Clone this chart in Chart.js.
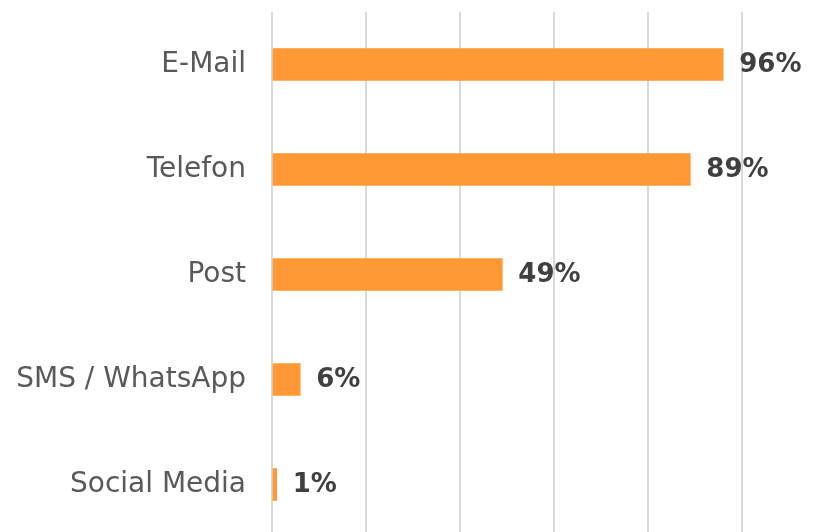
<!DOCTYPE html>
<html>
<head>
<meta charset="utf-8">
<script src="https://cdn.jsdelivr.net/npm/chart.js@4"></script>
<style>
  html, body { margin: 0; padding: 0; background: #fff; overflow: hidden; }
  #wrap { width: 829px; height: 537px; }
</style>
</head>
<body>
<div id="wrap"><canvas id="myChart"></canvas></div>
<script>
'use strict';

// channels and share of answers (%)
var channels = ['E-Mail', 'Telefon', 'Post', 'SMS / WhatsApp', 'Social Media'];
var shares = [96, 89, 49, 6, 1];
var axisTicks = [0, 20, 40, 60, 80, 100];

// draws the "96%" labels right of each bar
var valueLabels = {
  id: 'valueLabels',
  afterDatasetsDraw: function (chart) {
    var c = chart.ctx;
    var meta = chart.getDatasetMeta(0);
    c.save();
    c.font = 'bold 26px "DejaVu Sans"';
    c.fillStyle = '#404040';
    c.textBaseline = 'middle';
    c.textAlign = 'left';
    meta.data.forEach(function (bar, i) {
      c.fillText(shares[i] + '%', bar.x + 16, bar.y + 1);
    });
    c.restore();
  }
};

var ctx = document.getElementById('myChart').getContext('2d');
var myChart = new Chart(ctx, {
  type: 'bar',
  data: {
    labels: channels,
    datasets: [{
      data: shares,
      backgroundColor: '#ff9933',
      borderWidth: 0,
      barThickness: 32
    }]
  },
  options: {
    indexAxis: 'y',
    responsive: true,
    maintainAspectRatio: false,
    animation: false,
    layout: { padding: { top: 12, right: 87, left: 0, bottom: 0 } },
    plugins: {
      legend: { display: false },
      tooltip: { enabled: false }
    },
    scales: {
      x: {
        min: axisTicks[0],
        max: axisTicks[axisTicks.length - 1],
        ticks: { display: false, stepSize: 20 },
        grid: { color: '#d9d9d9', lineWidth: 2, drawTicks: false },
        border: { display: false }
      },
      y: {
        // fixed width, and no extra room above/below for the labels
        afterFit: function (scale) {
          scale.width = 272;
          scale.paddingTop = 0;
          scale.paddingBottom = 0;
        },
        ticks: {
          color: '#595959',
          padding: 26,
          font: { family: 'DejaVu Sans', size: 28 }
        },
        grid: { display: false, drawTicks: false },
        border: { display: false }
      }
    }
  },
  plugins: [valueLabels]
});
</script>
</body>
</html>
